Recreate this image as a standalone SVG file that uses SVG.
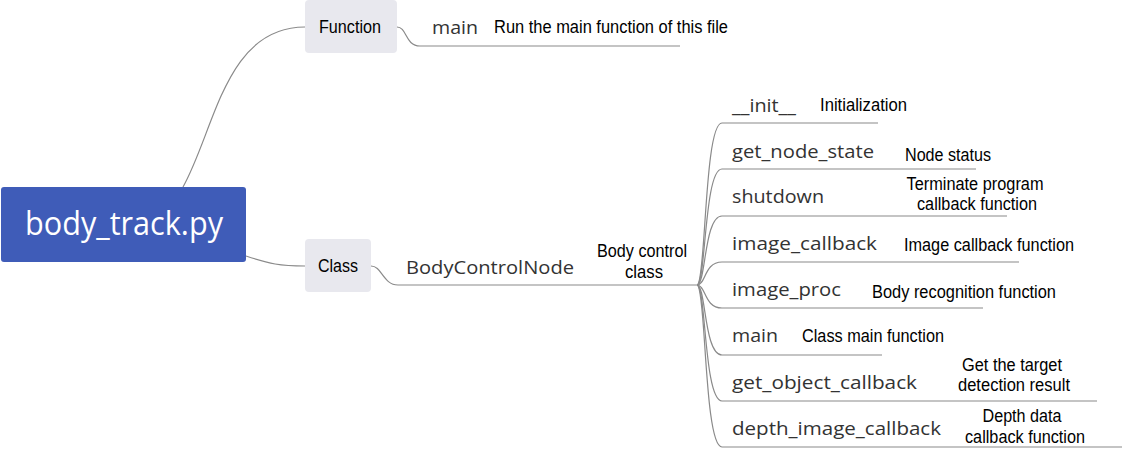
<svg xmlns="http://www.w3.org/2000/svg" width="1124" height="449" viewBox="0 0 1124 449">
<style>
.ln{fill:none;stroke:#8a8a8a;stroke-width:1.2}
.topic{fill:#e8e8ee}
.lbl{font-family:"Liberation Sans",Arial,sans-serif;font-size:17.5px;fill:#000}
.sub{font-family:"Open Sans","Noto Sans",sans-serif;font-size:18px;fill:#333}
.mid{text-anchor:middle}
</style>
<rect width="1124" height="449" fill="#fff"/>
<g id="connectors">
<path class="ln" d="M183,187 C215,130 225,27 305,27"/>
<path class="ln" d="M246,256 C270,264 280,266 305,266"/>
<path class="ln" d="M397,27 C407,27 405,46 420,46 L680,46"/>
<path class="ln" d="M371,266 C382,266 383,285 398,285 L697,285"/>
<path class="ln" d="M697,285 C706,285 704,123 722,123 L878,123"/>
<path class="ln" d="M697,285 C706,285 704,169 722,169 L976,169"/>
<path class="ln" d="M697,285 C706,285 704,216 722,216 L1007,216"/>
<path class="ln" d="M697,285 C706,285 704,262 722,262 L1019,262"/>
<path class="ln" d="M697,285 C706,285 704,308 722,308 L983,308"/>
<path class="ln" d="M697,285 C706,285 704,355 722,355 L882,355"/>
<path class="ln" d="M697,285 C706,285 704,401 722,401 L1097,401"/>
<path class="ln" d="M697,285 C706,285 704,447 722,447 L1122,447"/>
</g>
<g id="root">
<rect x="1" y="187" width="245" height="75" rx="3" fill="#3f5cb8"/>
<text x="124" y="235" font-family="'Open Sans','Noto Sans',sans-serif" font-size="32" fill="#fff" text-anchor="middle" textLength="198" lengthAdjust="spacingAndGlyphs">body_track.py</text>
</g>
<g id="function">
<rect class="topic" x="305" y="0" width="92" height="53" rx="4"/>
<text class="lbl mid" x="350" y="33" textLength="62" lengthAdjust="spacingAndGlyphs">Function</text>
</g>
<g id="class">
<rect class="topic" x="305" y="239" width="66" height="53" rx="4"/>
<text class="lbl mid" x="338" y="272" textLength="40" lengthAdjust="spacingAndGlyphs">Class</text>
</g>
<g id="main-func">
<text class="sub" x="432" y="34" textLength="46" lengthAdjust="spacingAndGlyphs">main</text>
<text class="lbl" x="494" y="33" textLength="234" lengthAdjust="spacingAndGlyphs">Run the main function of this file</text>
</g>
<g id="bodycontrolnode">
<text class="sub" x="406" y="274" textLength="168" lengthAdjust="spacingAndGlyphs">BodyControlNode</text>
<text class="lbl mid" x="642" y="257" textLength="90" lengthAdjust="spacingAndGlyphs">Body control</text>
<text class="lbl mid" x="644" y="278" textLength="38" lengthAdjust="spacingAndGlyphs">class</text>
</g>
<g id="init">
<text class="sub" x="732" y="112" textLength="64" lengthAdjust="spacingAndGlyphs">__init__</text>
<text class="lbl" x="820" y="111" textLength="87" lengthAdjust="spacingAndGlyphs">Initialization</text>
</g>
<g id="get_node_state">
<text class="sub" x="732" y="158" textLength="142" lengthAdjust="spacingAndGlyphs">get_node_state</text>
<text class="lbl" x="905" y="161" textLength="86" lengthAdjust="spacingAndGlyphs">Node status</text>
</g>
<g id="shutdown">
<text class="sub" x="732" y="203" textLength="92" lengthAdjust="spacingAndGlyphs">shutdown</text>
<text class="lbl mid" x="975" y="190" textLength="137" lengthAdjust="spacingAndGlyphs">Terminate program</text>
<text class="lbl mid" x="977" y="210" textLength="120" lengthAdjust="spacingAndGlyphs">callback function</text>
</g>
<g id="image_callback">
<text class="sub" x="732" y="250" textLength="145" lengthAdjust="spacingAndGlyphs">image_callback</text>
<text class="lbl" x="904" y="251" textLength="170" lengthAdjust="spacingAndGlyphs">Image callback function</text>
</g>
<g id="image_proc">
<text class="sub" x="732" y="296" textLength="109" lengthAdjust="spacingAndGlyphs">image_proc</text>
<text class="lbl" x="872" y="298" textLength="184" lengthAdjust="spacingAndGlyphs">Body recognition function</text>
</g>
<g id="main-method">
<text class="sub" x="732" y="342" textLength="46" lengthAdjust="spacingAndGlyphs">main</text>
<text class="lbl" x="802" y="342" textLength="142" lengthAdjust="spacingAndGlyphs">Class main function</text>
</g>
<g id="get_object_callback">
<text class="sub" x="732" y="389" textLength="185" lengthAdjust="spacingAndGlyphs">get_object_callback</text>
<text class="lbl mid" x="1012" y="371" textLength="100" lengthAdjust="spacingAndGlyphs">Get the target</text>
<text class="lbl mid" x="1014" y="391" textLength="112" lengthAdjust="spacingAndGlyphs">detection result</text>
</g>
<g id="depth_image_callback">
<text class="sub" x="732" y="435" textLength="209" lengthAdjust="spacingAndGlyphs">depth_image_callback</text>
<text class="lbl mid" x="1022" y="422" textLength="79" lengthAdjust="spacingAndGlyphs">Depth data</text>
<text class="lbl mid" x="1025" y="443" textLength="120" lengthAdjust="spacingAndGlyphs">callback function</text>
</g>
</svg>
